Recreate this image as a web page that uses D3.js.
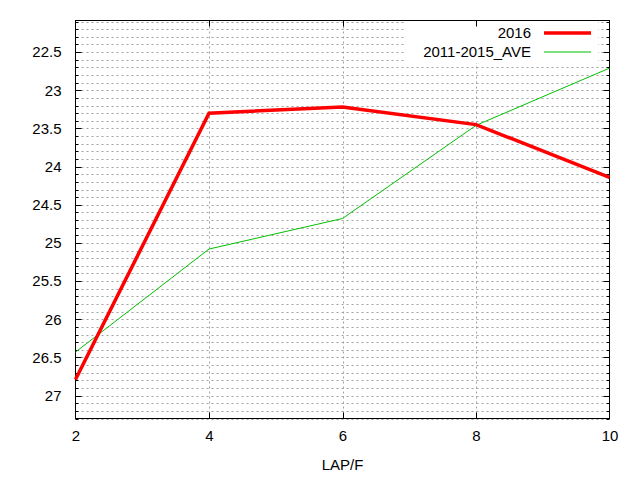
<!DOCTYPE html>
<html><head><meta charset="utf-8">
<script src="https://cdn.jsdelivr.net/npm/d3@7/dist/d3.min.js"></script>
<style>body{margin:0;background:#fff}svg{display:block}text{font-family:"Liberation Sans",Arial,sans-serif}</style>
</head><body><svg id="c" width="640" height="480"></svg>
<script>
const xValues = [2, 4, 6, 8, 10];
const series2016 = [26.79, 23.30, 23.22, 23.45, 24.14];
const seriesAve = [26.43, 25.08, 24.68, 23.46, 22.71];
const seriesNames = ["2016", "2011-2015_AVE"];
const seriesColors = ["#ff0000", "#00c000"];
const yTickLabels = [22.5, 23, 23.5, 24, 24.5, 25, 25.5, 26, 26.5, 27];
const xTickLabels = [2, 4, 6, 8, 10];
const xLabel = "LAP/F";

const svg = d3.select("#c");
const L = 75.5, R = 609.5, T = 20.5, B = 418.5;
const x = d3.scaleLinear().domain([2, 10]).range([L, R]);
const y = d3.scaleLinear().domain([22.086, 27.3]).range([T, B]);

const minorY = d3.range(221, 274).map(v => v / 10).filter(v => v >= 22.086 && v <= 27.3);
const g = svg.append("g");
g.selectAll(".hg").data(minorY).enter().append("line")
  .attr("x1", L + 1).attr("x2", R).attr("y1", d => Math.round(y(d)) + 0.5).attr("y2", d => Math.round(y(d)) + 0.5)
  .attr("stroke", "#a0a0a0").attr("stroke-width", 1).attr("stroke-dasharray", "2,3");
g.selectAll(".vg").data([4, 6, 8]).enter().append("line")
  .attr("x1", d => Math.round(x(d)) + 0.5).attr("x2", d => Math.round(x(d)) + 0.5).attr("y1", T + 1).attr("y2", B)
  .attr("stroke", "#a0a0a0").attr("stroke-width", 1).attr("stroke-dasharray", "2,3");

svg.append("rect").attr("x", 405).attr("y", 21).attr("width", 193).attr("height", 42).attr("fill", "#fff");

const yAxisL = d3.axisLeft(y).tickValues(yTickLabels).tickSize(0).tickPadding(14).tickFormat(d3.format(""));
const ya = svg.append("g").attr("transform", `translate(${L},0)`).call(yAxisL);
ya.select(".domain").remove();
ya.selectAll("text").attr("font-size", 15).attr("fill", "#000").style("font-family", '"Liberation Sans",Arial,sans-serif');

const xAxisB = d3.axisBottom(x).tickValues(xTickLabels).tickSize(0).tickPadding(12).tickFormat(d3.format(""));
const xa = svg.append("g").attr("transform", `translate(0,${B})`).call(xAxisB);
xa.select(".domain").remove();
xa.selectAll("text").attr("font-size", 15).attr("fill", "#000").style("font-family", '"Liberation Sans",Arial,sans-serif');

const majorSet = new Set(yTickLabels.map(v => Math.round(v * 10)));
minorY.forEach(v => {
  const len = majorSet.has(Math.round(v * 10)) ? 6 : 3;
  const yy = Math.round(y(v)) + 0.5;
  svg.append("line").attr("x1", L).attr("x2", L + len).attr("y1", yy).attr("y2", yy).attr("stroke", "#000");
  svg.append("line").attr("x1", R).attr("x2", R - len).attr("y1", yy).attr("y2", yy).attr("stroke", "#000");
});
[4, 6, 8].forEach(v => {
  const xx = Math.round(x(v)) + 0.5;
  svg.append("line").attr("x1", xx).attr("x2", xx).attr("y1", B).attr("y2", B - 6).attr("stroke", "#000");
  svg.append("line").attr("x1", xx).attr("x2", xx).attr("y1", T).attr("y2", T + 6).attr("stroke", "#000");
});

svg.append("rect").attr("x", L).attr("y", T).attr("width", R - L).attr("height", B - T)
  .attr("fill", "none").attr("stroke", "#000").attr("stroke-width", 1);

const line = d3.line().x((d, i) => x(xValues[i])).y(d => y(d));
svg.append("path").datum(seriesAve).attr("d", line).attr("fill", "none")
  .attr("stroke", seriesColors[1]).attr("stroke-width", 1);
svg.append("path").datum(series2016).attr("d", line).attr("fill", "none")
  .attr("stroke", seriesColors[0]).attr("stroke-width", 3.5).attr("stroke-linejoin", "miter");

const legY = [33, 52];
const lw = [3.5, 1];
seriesNames.forEach((n, i) => {
  svg.append("text").attr("x", 531).attr("y", legY[i]).attr("dy", "0.35em").attr("text-anchor", "end")
    .attr("font-size", 15).attr("fill", "#000").text(n);
  svg.append("line").attr("x1", 544).attr("x2", 591).attr("y1", legY[i]).attr("y2", legY[i])
    .attr("stroke", seriesColors[i]).attr("stroke-width", lw[i]);
});

svg.append("text").attr("x", (L + R) / 2).attr("y", 465).attr("dy", "0.35em").attr("text-anchor", "middle")
  .attr("font-size", 15).attr("fill", "#000").text(xLabel);
</script></body></html>
